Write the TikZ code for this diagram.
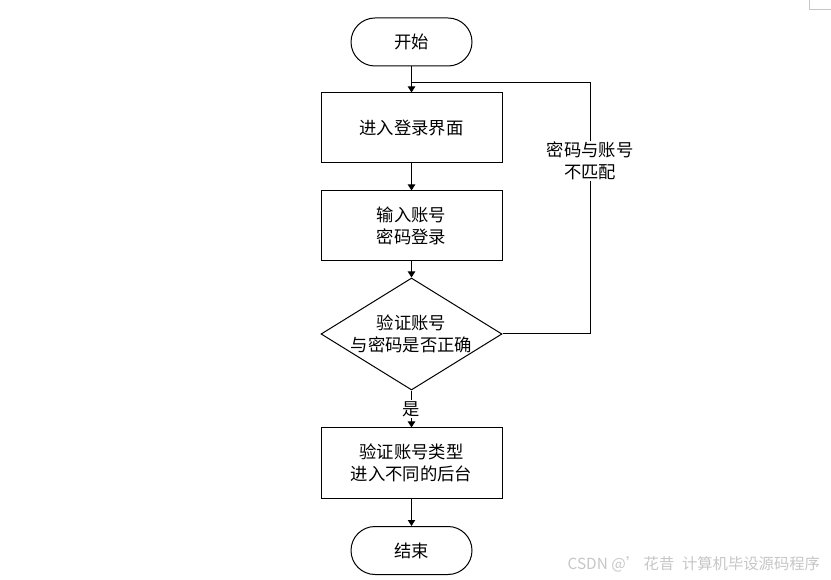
\documentclass[tikz,border=0pt]{standalone}
\usepackage{fontspec}
\setmainfont{Noto Sans CJK SC}
\usepackage{xcolor}
\usetikzlibrary{shapes,arrows,positioning,calc,arrows.meta}

\begin{document}
\begin{tikzpicture}[x=0.75pt, y=-0.75pt,
    every node/.style={font=\fontsize{13pt}{16.5pt}\selectfont, align=center},
    terminal/.style={draw, line width=0.75pt, rectangle, rounded corners=18pt,
        minimum width=90.75pt, minimum height=36pt, inner sep=0pt},
    process/.style={draw, line width=0.75pt, rectangle,
        minimum width=135.75pt, minimum height=52.5pt, inner sep=0pt},
    decision/.style={draw, line width=0.75pt, diamond,
        minimum width=135.75pt, minimum height=84pt, inner sep=0pt},
    flow/.style={line width=0.75pt, -{Triangle[length=4.5pt,width=5.5pt]}},
    edgelabel/.style={fill=white, inner sep=1pt}]
    \useasboundingbox (0,0) rectangle (831,580);

    % corner mark
    \draw[gray!45, line width=0.75pt] (809,0) -- (809,10) -- (831,10);

    % Steps
    \node[terminal] (start) at (411.5,42) {开始};
    \node[process] (login) at (411.5,128) {进入登录界面};
    \node[process] (input) at (411.5,226) {输入账号\\密码登录};
    \node[decision] (check) at (411.5,334) {};
    \node (checktext) at (411.5,334) {验证账号\\与密码是否正确};
    \node[process] (dispatch) at (411.5,463) {验证账号类型\\进入不同的后台};
    \node[terminal] (finish) at (411.5,550.5) {结束};

    % Arrows
    \coordinate (merge) at (411.5,83);
    \draw[flow] (start) -- (login);
    \draw[flow] (login) -- (input);
    \draw[flow] (input) -- (check);
    \draw[flow] (check) -- node[edgelabel] (yes) {是} (dispatch);
    \draw[flow] (dispatch) -- (finish);

    % Loop back
    \draw[line width=0.75pt] (check.east) -- (590,334) -- (590,83) -- (merge);
    \node[edgelabel] (nomatch) at (590,161) {密码与账号\\不匹配};

    % watermark
    \node[anchor=west, text=gray!45, font=\fontsize{11.5pt}{14pt}\selectfont]
        (mark) at (563,564) {CSDN @'\,花昔\enspace 计算机毕设源码程序};
\end{tikzpicture}
\end{document}
